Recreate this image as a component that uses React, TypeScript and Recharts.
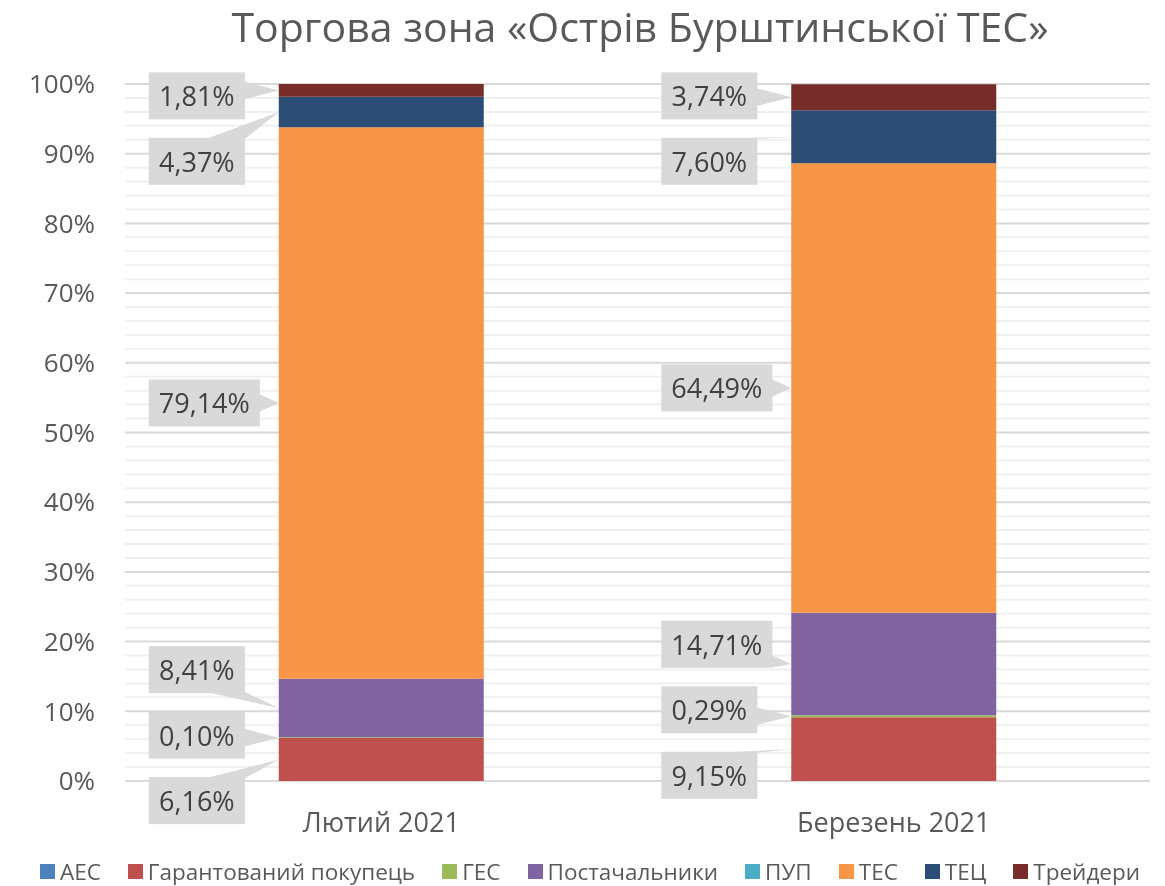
import React from 'react'
import { BarChart, Bar, XAxis, YAxis, CartesianGrid, Legend, LabelList } from 'recharts'

const categories = ['Лютий 2021', 'Березень 2021']

const aes = [0, 0]
const guaranteedBuyer = [6.16, 9.15]
const hydro = [0.1, 0.29]
const suppliers = [8.41, 14.71]
const pup = [0, 0]
const thermal = [79.14, 64.49]
const chp = [4.37, 7.6]
const traders = [1.81, 3.74]

const yTicks = [0, 10, 20, 30, 40, 50, 60, 70, 80, 90, 100]
const minorTicks = [2, 4, 6, 8, 12, 14, 16, 18, 22, 24, 26, 28, 32, 34, 36, 38, 42, 44, 46, 48, 52, 54, 56, 58, 62, 64, 66, 68, 72, 74, 76, 78, 82, 84, 86, 88, 92, 94, 96, 98]

const series = [
  { key: 'aes', name: 'АЕС', values: aes, color: '#4F81BD' },
  { key: 'gp', name: 'Гарантований покупець', values: guaranteedBuyer, color: '#C0504D' },
  { key: 'ges', name: 'ГЕС', values: hydro, color: '#9BBB59' },
  { key: 'post', name: 'Постачальники', values: suppliers, color: '#8064A2' },
  { key: 'pup', name: 'ПУП', values: pup, color: '#4BACC6' },
  { key: 'tes', name: 'ТЕС', values: thermal, color: '#F79646' },
  { key: 'tec', name: 'ТЕЦ', values: chp, color: '#2C4D75' },
  { key: 'traders', name: 'Трейдери', values: traders, color: '#772C2A' },
]

const data = categories.map((cat, i) => {
  const row: any = { cat }
  series.forEach((s) => (row[s.key] = s.values[i]))
  return row
})

// callout placement (in % units): spread overlapping labels apart
const LABEL_GAP = 9.4
const LABEL_TOP = 98.3

function spread(anchors: number[]) {
  let clusters = anchors.map((a, i) => ({ start: i, n: 1, sum: a }))
  const span = (c: any) => {
    const mean = c.sum / c.n
    return { lo: mean - ((c.n - 1) / 2) * LABEL_GAP, hi: mean + ((c.n - 1) / 2) * LABEL_GAP }
  }
  let merged = true
  while (merged) {
    merged = false
    for (let j = 1; j < clusters.length; j++) {
      const a = clusters[j - 1]
      const b = clusters[j]
      if (span(b).lo - span(a).hi < LABEL_GAP) {
        clusters.splice(j - 1, 2, { start: a.start, n: a.n + b.n, sum: a.sum + b.sum })
        merged = true
        break
      }
    }
  }
  const out: number[] = []
  clusters.forEach((c) => {
    const { lo } = span(c)
    for (let k = 0; k < c.n; k++) out[c.start + k] = lo + k * LABEL_GAP
  })
  for (let i = out.length - 1; i >= 0; i--) {
    const limit = i === out.length - 1 ? LABEL_TOP : out[i + 1] - LABEL_GAP
    if (out[i] > limit) out[i] = limit
  }
  return out
}

const segStart: Record<string, number[]> = {}
const labelPos: Record<string, number[]> = {}
series.forEach((s) => {
  segStart[s.key] = []
  labelPos[s.key] = []
})
categories.forEach((_, i) => {
  let cum = 0
  const visible: { key: string; anchor: number }[] = []
  series.forEach((s) => {
    const v = s.values[i]
    segStart[s.key][i] = cum
    if (v > 0) visible.push({ key: s.key, anchor: cum + v / 2 })
    cum += v
  })
  const pos = spread(visible.map((v) => v.anchor))
  visible.forEach((v, k) => (labelPos[v.key][i] = pos[k]))
})

const fmt = (v: number) => v.toFixed(2).replace('.', ',') + '%'

const textWidth = (t: string) =>
  t.split('').reduce((w, ch) => w + (ch === ',' ? 6.5 : ch === '%' ? 21 : 14.9), 0)

const makeCallout = (key: string) => (props: any) => {
  const { x, y, height, value, index } = props
  if (!value) return null
  const scale = height / value
  const bottom = y + height
  const cy = bottom - (labelPos[key][index] - segStart[key][index]) * scale
  const label = fmt(value)
  const boxW = textWidth(label) + 24
  const boxH = 47
  const left = x - 130
  const right = left + boxW
  const top = cy - boxH / 2
  const bot = cy + boxH / 2
  const tipX = x
  const tipY = y + height / 2
  let wedge: number[][]
  if (tipY < top) {
    wedge = [[right - boxW * 0.4, top + 1], [right, top + 1], [tipX, tipY]]
  } else if (tipY > bot) {
    wedge = [[right - boxW * 0.4, bot - 1], [right, bot - 1], [tipX, tipY]]
  } else {
    wedge = [[right - 1, Math.max(top, tipY - 9)], [right - 1, Math.min(bot, tipY + 9)], [tipX, tipY]]
  }
  return (
    <g>
      <polygon points={wedge.map((p) => p.join(',')).join(' ')} fill="#D9D9D9" />
      <rect x={left} y={top} width={boxW} height={boxH} fill="#D9D9D9" />
      <text
        x={left + boxW / 2}
        y={cy}
        textAnchor="middle"
        dominantBaseline="central"
        fontSize={27}
        fill="#404040"
        fontFamily="'Open Sans', sans-serif"
      >
        {label}
      </text>
    </g>
  )
}

const minorGrid = ({ offset }: any) => minorTicks.map((v) => offset.top + offset.height * (1 - v / 100))

const CustomLegend = () => (
  <div
    style={{
      display: 'flex',
      justifyContent: 'center',
      alignItems: 'center',
      height: 30,
      fontSize: 22.5,
      color: '#595959',
      fontFamily: "'Open Sans', sans-serif",
      paddingLeft: 30,
      whiteSpace: 'nowrap',
    }}
  >
    {series.map((s, i) => (
      <div key={s.key} style={{ display: 'flex', alignItems: 'center', marginRight: i === series.length - 1 ? 0 : 27 }}>
        <span style={{ width: 15, height: 15, background: s.color, marginRight: 5, display: 'inline-block' }} />
        <span>{s.name}</span>
      </div>
    ))}
  </div>
)

export default function App() {
  return (
    <div style={{ position: 'fixed', left: 0, top: 0, width: 1165, height: 886, background: '#fff' }}>
      <div
        style={{
          position: 'absolute',
          left: 125,
          width: 1030,
          top: 0,
          lineHeight: '52px',
          textAlign: 'center',
          fontSize: 41,
          color: '#595959',
          fontFamily: "'Open Sans', sans-serif",
          whiteSpace: 'nowrap',
        }}
      >
        Торгова зона «Острів Бурштинської ТЕС»
      </div>
      <BarChart
        width={1165}
        height={886}
        data={data}
        margin={{ top: 84, right: 15, left: 0, bottom: 0 }}
        barCategoryGap="30%"
        style={{ fontFamily: "'Open Sans', sans-serif" }}
      >
        <CartesianGrid vertical={false} stroke="#F0F0F0" strokeWidth={2} horizontalCoordinatesGenerator={minorGrid} />
        <CartesianGrid vertical={false} stroke="#D9D9D9" strokeWidth={2} />
        <XAxis
          dataKey="cat"
          height={75}
          axisLine={false}
          tickLine={false}
          tickMargin={26}
          tick={{ fontSize: 27, fill: '#595959' }}
        />
        <YAxis
          width={125}
          domain={[0, 100]}
          ticks={yTicks}
          allowDataOverflow
          axisLine={false}
          tickLine={false}
          tickMargin={24}
          tickFormatter={(v) => `${v}%`}
          tick={{ fontSize: 26, fill: '#595959' }}
        />
        <Legend verticalAlign="bottom" height={30} content={<CustomLegend />} />
        {series.map((s) => (
          <Bar key={s.key} dataKey={s.key} name={s.name} stackId="a" fill={s.color} isAnimationActive={false}>
            <LabelList dataKey={s.key} content={makeCallout(s.key)} />
          </Bar>
        ))}
      </BarChart>
    </div>
  )
}
